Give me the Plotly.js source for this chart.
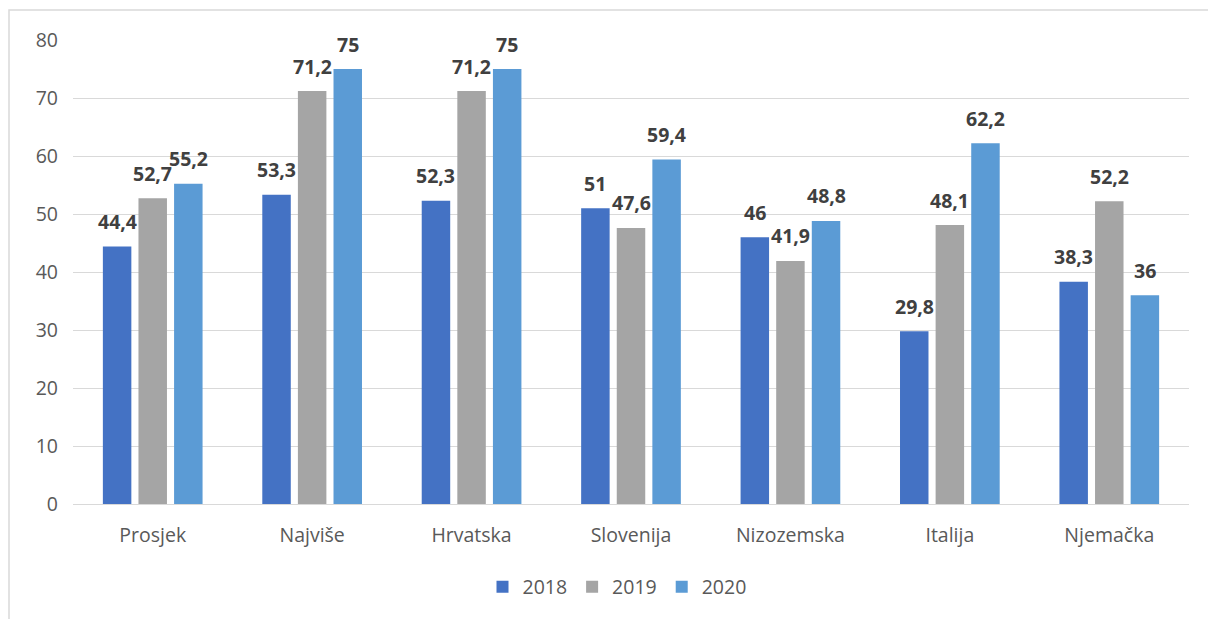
<!DOCTYPE html>
<html><head><meta charset="utf-8">
<script src="https://cdn.plot.ly/plotly-3.0.1.min.js"></script>
<style>html,body{margin:0;padding:0;background:#fff}#c{width:1208px;height:619px}</style>
</head><body><div id="c"></div>
<script>
const categories = ["Prosjek","Najviše","Hrvatska","Slovenija","Nizozemska","Italija","Njemačka"];
const seriesNames = ["2018","2019","2020"];
const v2018 = [44.4,53.3,52.3,51,46,29.8,38.3];
const v2019 = [52.7,71.2,71.2,47.6,41.9,48.1,52.2];
const v2020 = [55.2,75,75,59.4,48.8,62.2,36];
const yTicks = [0,10,20,30,40,50,60,70,80];

const colors = ["#4472C4","#A5A5A5","#5B9BD5"];
const allVals = [v2018,v2019,v2020];
const fmt = v => String(v).replace('.', ',');

const traces = allVals.map((vals,i)=>({
  type:'bar', name:seriesNames[i], x:categories, y:vals,
  marker:{color:colors[i]}, hoverinfo:'none'
}));

const W=1208, ml=73, mr=19;
const plotW = W-ml-mr;
const bargap=0.33, bargroupgap=0.2;
const slot = plotW/categories.length*(1-bargap)/3;
const annotations=[];
allVals.forEach((vals,i)=>{
  vals.forEach((v,j)=>{
    annotations.push({x:categories[j], y:v, xref:'x', yref:'y', text:'<b>'+fmt(v)+'</b>',
      showarrow:false, xshift:(i-1)*slot, yshift:25, yanchor:'middle',
      font:{family:'Open Sans, sans-serif', size:19.5, color:'#404040'}});
  });
});

const layout = {
  width:1208, height:619,
  margin:{l:ml, r:mr, t:40, b:115},
  paper_bgcolor:'#fff', plot_bgcolor:'#fff',
  barmode:'group', bargap:bargap, bargroupgap:bargroupgap,
  font:{family:'Open Sans, sans-serif', size:19, color:'#595959'},
  xaxis:{type:'category', showgrid:false, zeroline:false, showline:true, linecolor:'#D9D9D9', linewidth:1,
    ticks:'', ticklabelstandoff:14, tickfont:{size:19.5, color:'#595959'}},
  yaxis:{range:[0,80], tickvals:yTicks, showgrid:true, gridcolor:'#D9D9D9', gridwidth:1,
    zeroline:false, showline:false, ticks:'', ticklabelstandoff:14, tickfont:{size:19.5, color:'#595959'}},
  legend:{orientation:'h', x:0.5-14/plotW, xanchor:'center', y:-0.179, yanchor:'middle',
    font:{size:19.5, color:'#595959'}, traceorder:'normal', itemwidth:30},
  annotations:annotations,
  shapes:[{type:'rect', xref:'paper', yref:'paper', x0:-64/plotW, x1:1.1, y0:-0.5, y1:1+30/464,
    line:{color:'#D9D9D9', width:1.5}, fillcolor:'rgba(0,0,0,0)', layer:'below'}],
  showlegend:true
};
Plotly.newPlot('c', traces, layout, {staticPlot:true});
</script></body></html>
